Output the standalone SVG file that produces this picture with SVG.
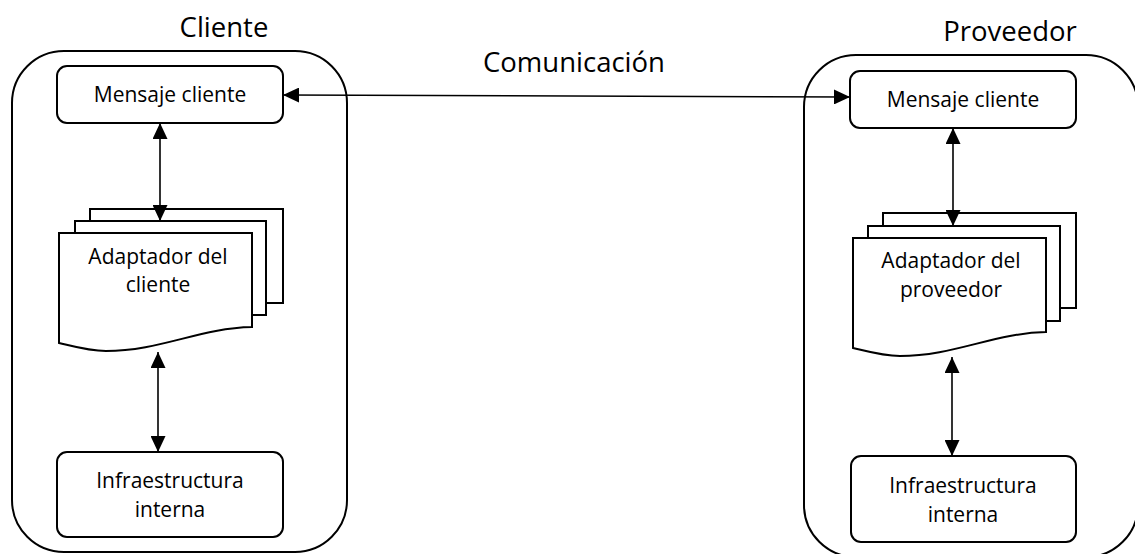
<svg xmlns="http://www.w3.org/2000/svg" width="1135" height="554" viewBox="0 0 1135 554">
<style>
  .container { fill: #ffffff; stroke: #000000; stroke-width: 2; }
  .box { fill: #ffffff; stroke: #000000; stroke-width: 2; }
  .page { fill: #ffffff; stroke: #000000; stroke-width: 2; }
  .conn { fill: none; stroke: #000000; stroke-width: 1.6; marker-start: url(#arrow); marker-end: url(#arrow); }
  .title { font-family: "Open Sans", "Liberation Sans", sans-serif; font-size: 27.5px; fill: #000000; text-anchor: middle; }
  .label { font-family: "Open Sans", "Liberation Sans", sans-serif; font-size: 21px; fill: #000000; text-anchor: middle; }
</style>
<defs>
  <marker id="arrow" markerUnits="userSpaceOnUse" markerWidth="16" markerHeight="15" refX="16" refY="7.5" orient="auto-start-reverse" viewBox="0 0 16 15">
    <path d="M0,0 L16,7.5 L0,15 Z" fill="#000000"/>
  </marker>
</defs>
<rect width="1135" height="554" fill="#ffffff"/>

<g id="cliente-container">
  <rect class="container" x="12" y="51" width="335" height="501" rx="52" ry="52"/>
  <text class="title" x="224" y="37">Cliente</text>
</g>
<g id="proveedor-container">
  <rect class="container" x="804" y="55" width="334" height="502" rx="52" ry="52"/>
  <text class="title" x="1010" y="41">Proveedor</text>
</g>

<g id="cliente-mensaje">
  <rect class="box" x="57" y="66" width="226" height="57" rx="10" ry="10"/>
  <text class="label" x="170" y="102">Mensaje cliente</text>
</g>
<g id="cliente-adaptador">
  <rect class="page" x="90" y="209" width="193" height="94"/>
  <rect class="page" x="75" y="221" width="191" height="94"/>
  <path class="page" d="M59,233 H252 V327 C200,328 160,351 106,351 C88,351 72,346 59,343 Z"/>
  <text class="label" x="158" y="264">Adaptador del</text>
  <text class="label" x="158" y="292">cliente</text>
</g>
<g id="cliente-infra">
  <rect class="box" x="57" y="452" width="226" height="85" rx="10" ry="10"/>
  <text class="label" x="170" y="488">Infraestructura</text>
  <text class="label" x="170" y="517">interna</text>
</g>

<g id="proveedor-mensaje">
  <rect class="box" x="850" y="71" width="226" height="57" rx="10" ry="10"/>
  <text class="label" x="963" y="107">Mensaje cliente</text>
</g>
<g id="proveedor-adaptador">
  <rect class="page" x="883" y="213" width="193" height="95"/>
  <rect class="page" x="868" y="226" width="192" height="95"/>
  <path class="page" d="M853,238 H1046 V332 C994,333 954,356 900,356 C882,356 866,351 853,348 Z"/>
  <text class="label" x="951" y="268">Adaptador del</text>
  <text class="label" x="951" y="297">proveedor</text>
</g>
<g id="proveedor-infra">
  <rect class="box" x="851" y="456" width="225" height="86" rx="10" ry="10"/>
  <text class="label" x="963" y="493">Infraestructura</text>
  <text class="label" x="963" y="522">interna</text>
</g>

<g id="comunicacion-label">
  <text class="title" x="574" y="72">Comunicación</text>
</g>

<g id="connectors">
  <line class="conn" x1="283" y1="95" x2="850" y2="97"/>
  <line class="conn" x1="160" y1="123" x2="160" y2="221"/>
  <line class="conn" x1="158" y1="352" x2="158" y2="452"/>
  <line class="conn" x1="953" y1="128" x2="953" y2="226"/>
  <line class="conn" x1="952" y1="357" x2="952" y2="456"/>
</g>
</svg>
